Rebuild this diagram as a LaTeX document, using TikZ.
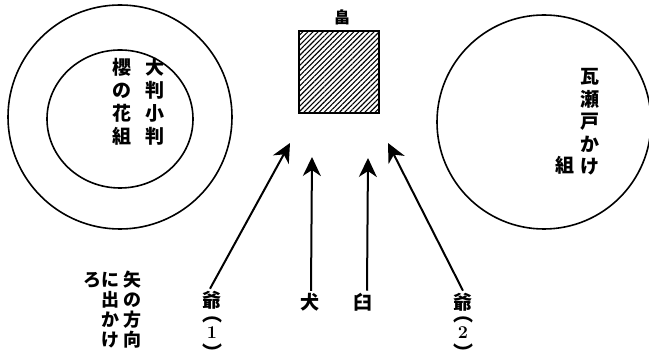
\documentclass[tikz,border=0pt]{standalone}
\usepackage{fontspec}
\newfontfamily\jp{Noto Sans CJK JP}
\usetikzlibrary{arrows.meta,patterns.meta,shapes.geometric}
\begin{document}
\begin{tikzpicture}[x=1pt,y=-1pt,
  ring/.style={draw,line width=1.6pt},
  colA/.style={font=\jp\bfseries\fontsize{19}{23}\selectfont,align=center,inner sep=0pt},
  colB/.style={font=\jp\bfseries\fontsize{18}{20}\selectfont,align=center,inner sep=0pt},
  lab/.style={font=\jp\bfseries\fontsize{19}{19}\selectfont,inner sep=0pt},
  num/.style={font=\bfseries\fontsize{18}{18}\selectfont,inner sep=0pt},
  par/.style={font=\jp\bfseries\fontsize{20}{20}\selectfont,inner sep=0pt},
  arr/.style={line width=2pt,-{Stealth[length=19pt,width=18pt,inset=6pt]}},
  fieldbox/.style={draw,line width=1.6pt,minimum width=80pt,minimum height=82pt,
    pattern={Lines[angle=45,distance=3.6pt,line width=1.1pt]}}
]
\useasboundingbox (0,0) rectangle (649,355);
% left circles
\node[ring,circle,minimum size=224pt,inner sep=0pt] (outer) at (120,117) {};
\node[ring,ellipse,minimum width=146pt,minimum height=138pt,inner sep=0pt] (inner) at (120,119) {};
\node[colA] (oban) at (155,102) {大\\判\\小\\判};
\node[colA] (sakura) at (122,102) {櫻\\の\\花\\組};
% right circle
\node[ring,circle,minimum size=214pt,inner sep=0pt] (right) at (544,122) {};
\node[colA,font=\jp\bfseries\fontsize{19}{22.5}\selectfont] (seto) at (590,122) {瓦\\瀬\\戸\\か\\け};
\node[colA] (kumi) at (565,165) {組};
% field
\node[lab,font=\jp\bfseries\fontsize{16}{16}\selectfont] (hata) at (342,17) {畠};
\node[fieldbox] (field) at (339,72) {};
% instruction text
\node[colB] (yano) at (132,310) {矢\\の\\方\\向};
\node[colB] (deka) at (110,310) {に\\出\\か\\け};
\node[colB] (ro) at (92,280) {ろ};
% labels
\node[lab] (ji1) at (212,300) {爺};
\node[par] (p1a) at (212,320) {︵};
\node[num] (n1) at (212,333) {1};
\node[par] (p1b) at (212,352) {︶};
\node[lab] (inu) at (310,302) {犬};
\node[lab] (usu) at (363,302) {臼};
\node[lab] (ji2) at (463,302) {爺};
\node[par] (p2a) at (463,320) {︵};
\node[num] (n2) at (463,333) {2};
\node[par] (p2b) at (463,352) {︶};
% arrow tips
\coordinate (t1) at (290,143);
\coordinate (t2) at (312,157);
\coordinate (t3) at (368,158);
\coordinate (t4) at (388,143);
\draw[arr] (ji1.north) ++(-2,-2) -- (t1);
\draw[arr] (inu.north) ++(1,-2) -- (t2);
\draw[arr] (usu.north) ++(4,-2) -- (t3);
\draw[arr] (ji2.north) ++(0,-2) -- (t4);
\end{tikzpicture}
\end{document}
